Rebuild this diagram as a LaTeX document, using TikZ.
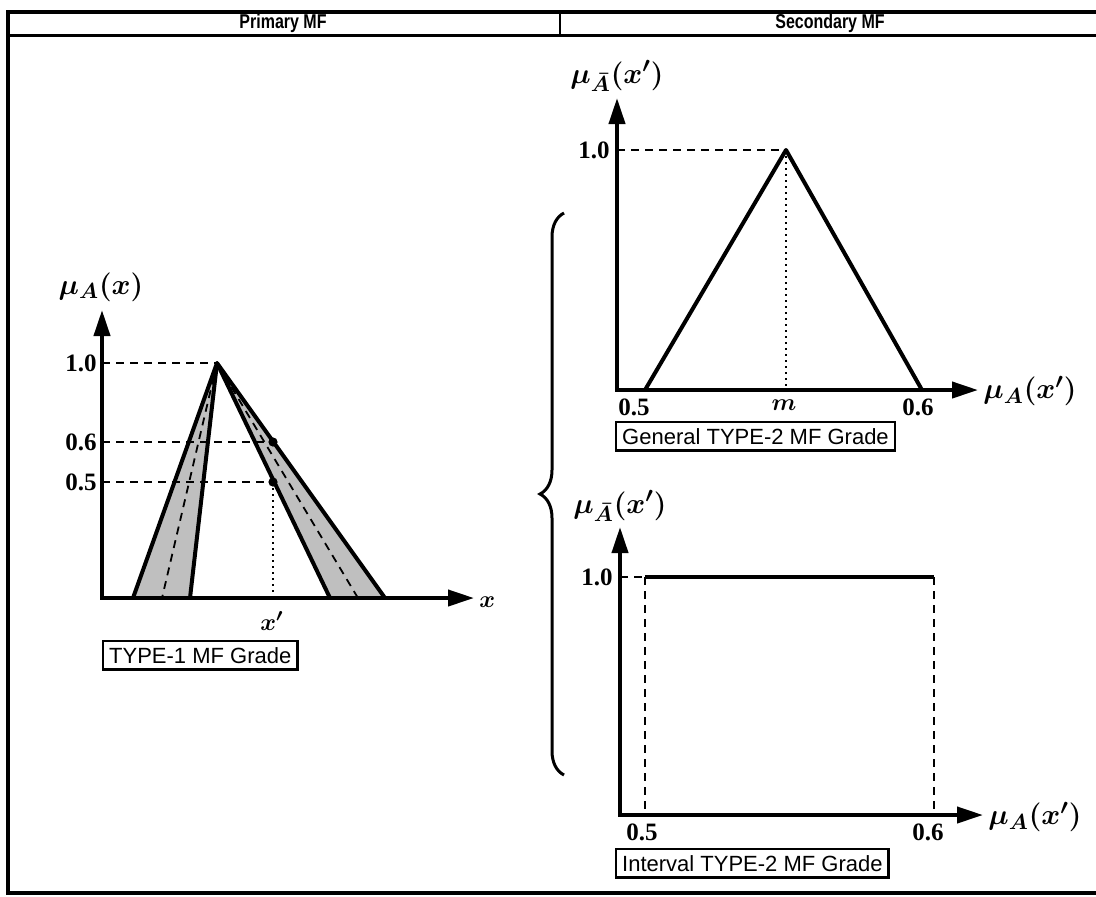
\documentclass[tikz,border=0pt]{standalone}
\usepackage{fontspec}
\setmainfont{Liberation Serif}
\setsansfont{Liberation Sans}
\usetikzlibrary{arrows.meta,decorations.pathreplacing}

\tikzset{
  axes/.style={line width=2pt, line join=miter,
    {Triangle[length=13pt,width=8pt]}-{Triangle[length=13pt,width=8pt]}},
  mfline/.style={line width=2pt, line join=round},
  guide/.style={line width=0.9pt, dash pattern=on 4pt off 3pt},
  dropline/.style={line width=0.9pt, dash pattern=on 1.2pt off 1.8pt},
  band/.style={fill=black!25},
  ticklabel/.style={font=\fontsize{12.5}{13}\selectfont\bfseries, inner sep=1pt},
  mulabel/.style={font=\fontsize{15}{15}\selectfont\boldmath, inner sep=0.5pt},
  varlabel/.style={font=\fontsize{13}{13}\selectfont\boldmath, inner sep=0.5pt},
  gradebox/.style={draw, line width=1.2pt, inner sep=3pt, anchor=north west,
    font=\sffamily\fontsize{11}{12}\selectfont},
  header/.style={font=\sffamily\bfseries\fontsize{10}{10}\selectfont, inner sep=0pt},
}
\newcommand{\narrow}[1]{\scalebox{0.8}[1]{#1}}

\begin{document}
\begin{tikzpicture}[x=0.5pt,y=-0.5pt]
  \useasboundingbox (0,0) rectangle (1096,896);
  % Frame and header row
  \draw[line width=2pt] (1096,12) -- (8,12) -- (8,893) -- (1096,893);
  \draw[line width=1.5pt] (8,35) -- (1096,35);
  \draw[line width=1.2pt] (560,12) -- (560,35);
  \node[header] (prim) at (283,23.5) {\narrow{Primary MF}};
  \node[header] (sec) at (830,23.5) {\narrow{Secondary MF}};

  % Primary MF: type-1 grade with shaded bands
  \coordinate (o1) at (102,598);
  \coordinate (apex1) at (217,363);
  \coordinate (p6) at (273,442);
  \coordinate (p5) at (273,482);
  \fill[band] (apex1) -- (133,598) -- (190,598) -- cycle;
  \fill[band] (apex1) -- (330,598) -- (385,598) -- cycle;
  \draw[guide] (o1 |- apex1) -- (apex1);
  \draw[guide] (o1 |- p6) -- (p6);
  \draw[guide] (o1 |- p5) -- (p5);
  \draw[guide] (apex1) -- (162,598);
  \draw[guide] (apex1) -- (358,598);
  \draw[dropline] (p5) -- (p5 |- o1);
  \draw[mfline] (133,598) -- (apex1) -- (190,598);
  \draw[mfline] (330,598) -- (apex1) -- (385,598);
  \fill (p6) circle (2.3pt);
  \fill (p5) circle (2.3pt);
  \draw[axes] (102,310) -- (o1) -- (474,598);
  \node[ticklabel, anchor=east] (one1) at (99,363) {1.0};
  \node[ticklabel, anchor=east] (six1) at (99,442) {0.6};
  \node[ticklabel, anchor=east] (five1) at (99,482) {0.5};
  \node[mulabel] (muA) at (101,287) {$\mu_A(x)$};
  \node[varlabel, anchor=west] (xlab) at (478,602) {$x$};
  \node[varlabel] (xprime) at (272,621) {$x'$};
  \node[gradebox] (type1) at (102,640) {TYPE-1 MF Grade};

  % Secondary MF: brace
  \draw[line width=1.5pt, decorate, decoration={brace, amplitude=12pt}]
    (564,775) -- (564,213);

  % Secondary MF: general type-2 grade
  \coordinate (o2) at (617,390);
  \coordinate (apex2) at (786,150);
  \draw[guide] (o2 |- apex2) -- (apex2);
  \draw[dropline] (apex2) -- (apex2 |- o2);
  \draw[mfline] (645,390) -- (apex2) -- (922,390);
  \draw[axes] (617,98) -- (o2) -- (978,390);
  \node[ticklabel, anchor=east] (one2) at (612,150) {1.0};
  \node[mulabel] (muAbar2) at (617,76) {$\mu_{\bar{A}}(x')$};
  \node[mulabel, anchor=west] (muAx2) at (982,391) {$\mu_A(x')$};
  \node[ticklabel] (five2) at (634,407) {0.5};
  \node[varlabel] (m2) at (784,405) {$m$};
  \node[ticklabel] (six2) at (918,407) {0.6};
  \node[gradebox] (general) at (615,421) {General TYPE-2 MF Grade};

  % Secondary MF: interval type-2 grade
  \coordinate (o3) at (620,815);
  \coordinate (lft3) at (645,577);
  \coordinate (rgt3) at (934,577);
  \draw[guide] (o3 |- lft3) -- (lft3);
  \draw[guide] (lft3) -- (lft3 |- o3);
  \draw[guide] (rgt3) -- (rgt3 |- o3);
  \draw[mfline] (lft3) -- (rgt3);
  \draw[axes] (620,527) -- (o3) -- (983,815);
  \node[ticklabel, anchor=east] (one3) at (615,577) {1.0};
  \node[mulabel] (muAbar3) at (620,506) {$\mu_{\bar{A}}(x')$};
  \node[mulabel, anchor=west] (muAx3) at (987,817) {$\mu_A(x')$};
  \node[ticklabel] (five3) at (642,832) {0.5};
  \node[ticklabel] (six3) at (928,832) {0.6};
  \node[gradebox] (interval) at (615,848) {Interval TYPE-2 MF Grade};
\end{tikzpicture}
\end{document}
